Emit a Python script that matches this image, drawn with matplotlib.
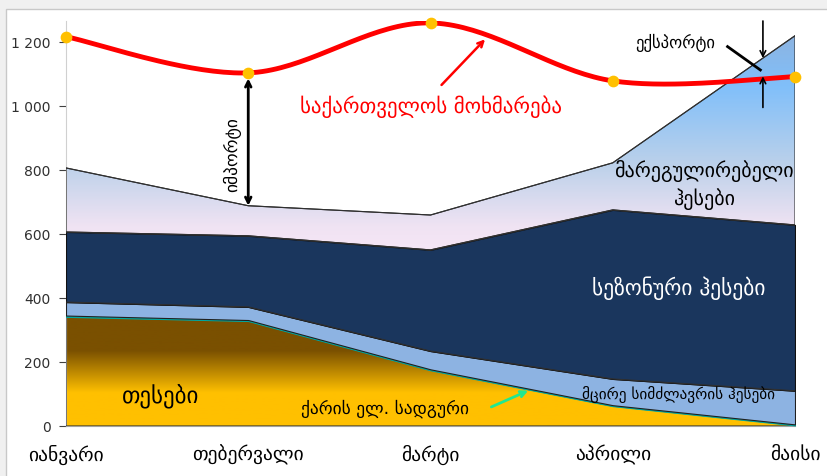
import numpy as np
import matplotlib
matplotlib.use("Agg")
import matplotlib.pyplot as plt
from matplotlib.colors import LinearSegmentedColormap
from matplotlib.patches import Rectangle
from matplotlib.ticker import FuncFormatter

plt.rcParams['font.family'] = ['DejaVu Sans']

# თვეები და გენერაცია წყაროების მიხედვით (მლნ კვტ.სთ)
months = ['იანვარი', 'თებერვალი', 'მარტი', 'აპრილი', 'მაისი']
thermal = [341, 328, 174, 62, 2]
wind = [4, 3, 3, 3, 3]
small_hpp = [42, 41, 57, 82, 105]
seasonal_hpp = [219, 222, 316, 528, 518]
regulating_hpp = [200, 94, 109, 147, 591]
consumption = [1216, 1103, 1259, 1078, 1091]

x = np.arange(len(months))
layers = [thermal, wind, small_hpp, seasonal_hpp, regulating_hpp]
tops = np.cumsum(np.array(layers, dtype=float), axis=0)
bottoms = np.vstack([np.zeros(len(x)), tops[:-1]])

fig = plt.figure(figsize=(8.27, 4.77), dpi=100)
fig.patch.set_facecolor('#f0f0f0')
fig.patches.append(Rectangle((6 / 827, -0.1), 1.2, 1 - 10 / 477 + 0.1,
                             transform=fig.transFigure, facecolor='white',
                             edgecolor='#c8c8c8', lw=1, zorder=-5))
ax = fig.add_axes([66 / 827, 1 - 427 / 477, (795 - 66) / 827, (427 - 22) / 477])
ax.set_zorder(2)
ax.set_facecolor('none')
ymax = 1265
ax.set_xlim(0, 4)
ax.set_ylim(0, ymax)


def gradient_fill(i, colors, stops, y0, y1):
    # ვერტიკალური გრადიენტი ფენის პოლიგონის შიგნით
    poly = ax.fill_between(x, bottoms[i], tops[i], facecolor='none',
                           edgecolor='#303030', lw=0.8, zorder=3)
    cmap = LinearSegmentedColormap.from_list('g', list(zip(stops, colors)))
    grad = np.linspace(0, 1, 256).reshape(-1, 1)
    im = ax.imshow(grad, cmap=cmap, aspect='auto', origin='lower',
                   extent=[0, 4, y0, y1], zorder=2)
    im.set_clip_path(poly.get_paths()[0], transform=ax.transData)


# თესები - ყავისფერიდან ყვითლისკენ
gradient_fill(0, ['#ffc000', '#ffc000', '#7a5000', '#7a5000'],
              [0, 0.3, 0.68, 1], 0, 345)
# ქარი
ax.fill_between(x, bottoms[1], tops[1], color='#00d8d0', lw=0.8,
                edgecolor='#00a8a0', zorder=3)
# მცირე ჰესები
ax.fill_between(x, bottoms[2], tops[2], color='#8db3e2', lw=0.8,
                edgecolor='#202020', zorder=3)
# სეზონური ჰესები
ax.fill_between(x, bottoms[3], tops[3], color='#1a365d', lw=0.8,
                edgecolor='#101010', zorder=3)
# მარეგულირებელი ჰესები
gradient_fill(4, ['#f6e6f6', '#f0e3f3', '#bcd1ea', '#80bffa', '#8db3e0'],
              [0, 0.12, 0.40, 0.76, 1], 540, 1225)
for i in (2, 3, 4):
    ax.plot(x, tops[i], color='#303030', lw=0.8, zorder=4)

# მოხმარება - გლუვი მრუდი (Catmull-Rom)
cons = np.array(consumption, dtype=float)
pts = np.column_stack([x, cons])
ext = np.vstack([pts[0], pts, pts[-1]])
cx, cy = [], []
for k in range(len(pts) - 1):
    p0, p1, p2, p3 = ext[k], ext[k + 1], ext[k + 2], ext[k + 3]
    c1 = p1 + (p2 - p0) / 6
    c2 = p2 - (p3 - p1) / 6
    t = np.linspace(0, 1, 40)[:, None]
    b = ((1 - t) ** 3) * p1 + 3 * ((1 - t) ** 2) * t * c1 + 3 * (1 - t) * t ** 2 * c2 + t ** 3 * p2
    cx.extend(b[:, 0])
    cy.extend(b[:, 1])
cx, cy = np.array(cx), np.array(cy)
ax.plot(cx, cy, color='#ff0000', lw=3.5, zorder=6, solid_capstyle='round')
ax.scatter(x, cons, s=55, color='#ffc000', zorder=7, clip_on=False)

# ღერძები
ax.spines['top'].set_visible(False)
ax.spines['right'].set_visible(False)
ax.spines['left'].set_color('#d0d0d0')
ax.spines['bottom'].set_color('#a0a0a0')
ax.set_xticks(x)
ax.set_xticklabels(months, fontsize=14)
ax.set_yticks(range(0, 1201, 200))
ax.yaxis.set_major_formatter(FuncFormatter(lambda v, p: f'{int(v):,}'.replace(',', ' ')))
ax.tick_params(axis='y', labelsize=10, colors='#404040', length=5, width=0.8,
               labelcolor='#303030', pad=6)
ax.tick_params(axis='x', length=0, pad=13)

# წარწერები
ax.text(0.52, 97, 'თესები', fontsize=16.5, ha='center', va='center', zorder=8)
ax.text(1.75, 56, 'ქარის ელ. სადგური', fontsize=12.5, ha='center', va='center', zorder=8)
ax.annotate('', xy=(2.55, 114), xytext=(2.32, 56),
            arrowprops=dict(arrowstyle='->', color='#20e890', lw=2), zorder=8)
ax.text(3.36, 100, 'მცირე სიმძლავრის ჰესები', fontsize=11, ha='center',
        va='center', zorder=8)
ax.text(3.36, 434, 'სეზონური ჰესები', fontsize=15.5, ha='center', va='center',
        color='white', zorder=8)
ax.text(3.5, 756, 'მარეგულირებელი\nჰესები', fontsize=14.5, ha='center',
        va='center', linespacing=1.4, zorder=8)
ax.text(2.0, 1000, 'საქართველოს მოხმარება', fontsize=15, ha='center',
        va='center', color='#ff0000', zorder=8)
ax.annotate('', xy=(2.31, 1214), xytext=(2.05, 1059),
            arrowprops=dict(arrowstyle='->', color='#ff0000', lw=1.8), zorder=8)

# იმპორტი - თებერვალში მოხმარებასა და გენერაციას შორის
ax.annotate('', xy=(1, tops[4][1]), xytext=(1, cons[1]),
            arrowprops=dict(arrowstyle='<->', color='black', lw=2,
                            shrinkA=4, shrinkB=0), zorder=8)
ax.text(0.91, 850, 'იმპორტი', fontsize=12.5, rotation=90, ha='center',
        va='center', zorder=8)

# ექსპორტი - მაისთან ახლოს
xe = 3.824
gen_e = np.interp(xe, x, tops[4])
cons_e = np.interp(xe, cx, cy)
ax.annotate('', xy=(xe, gen_e), xytext=(xe, ymax),
            arrowprops=dict(arrowstyle='->', color='black', lw=1.2,
                            shrinkA=0, shrinkB=0), zorder=8, annotation_clip=False)
ax.annotate('', xy=(xe, cons_e + 8), xytext=(xe, 995),
            arrowprops=dict(arrowstyle='->', color='black', lw=1.2,
                            shrinkA=0, shrinkB=0), zorder=8)
ax.plot([3.63, 3.81], [1185, 1112], color='black', lw=2, zorder=8)
ax.text(3.34, 1200, 'ექსპორტი', fontsize=12, ha='center', va='center', zorder=8)

fig.savefig('out.png', dpi=100, facecolor=fig.get_facecolor())
